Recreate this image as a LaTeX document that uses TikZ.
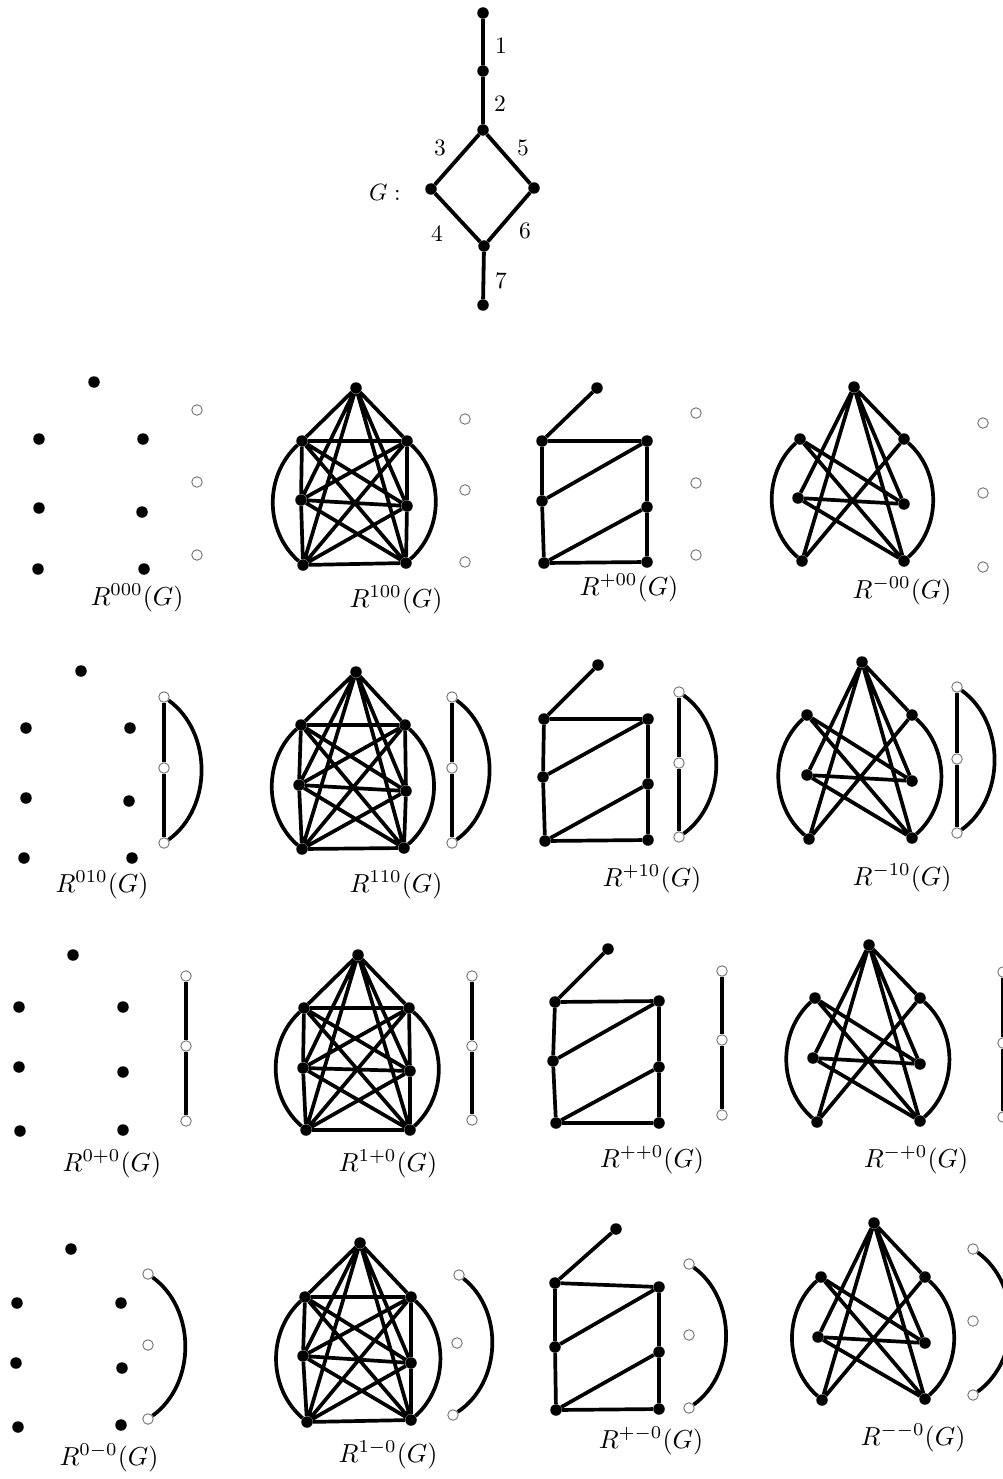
\documentclass[tikz,border=0pt]{standalone}
\pgfdeclarelayer{edges}
\pgfsetlayers{edges,main}
\tikzset{
 dot/.style={circle,fill=black,inner sep=0pt,minimum size=11.5pt},
 odot/.style={circle,draw=black!55,fill=white,inner sep=0pt,minimum size=10.5pt,line width=0.9pt},
 ln/.style={line width=3.7pt},
 oln/.style={line width=3.2pt},
 lab/.style={inner sep=0pt,scale=2.6},
 num/.style={inner sep=0pt,scale=2.35},
}
% seven vertices: prefix, apex, l1, r1, l2, r2, l3, r3
\newcommand\SevenV[8]{%
 \node[dot] (#1a) at (#2) {};
 \node[dot] (#1l1) at (#3) {};
 \node[dot] (#1r1) at (#4) {};
 \node[dot] (#1l2) at (#5) {};
 \node[dot] (#1r2) at (#6) {};
 \node[dot] (#1l3) at (#7) {};
 \node[dot] (#1r3) at (#8) {};}
\newcommand\EdgesK[1]{%
 \begin{pgfonlayer}{edges}
 \draw[ln] (#1a) -- (#1l1) (#1a) -- (#1r1) (#1a) -- (#1l2) (#1a) -- (#1r2) (#1a) -- (#1l3) (#1a) -- (#1r3)
  (#1l1) -- (#1r1) (#1l2) -- (#1r2) (#1l3) -- (#1r3)
  (#1l1) -- (#1l2) (#1l2) -- (#1l3) (#1r1) -- (#1r2) (#1r2) -- (#1r3)
  (#1l1) -- (#1r2) (#1l1) -- (#1r3) (#1l2) -- (#1r1) (#1l2) -- (#1r3) (#1l3) -- (#1r1) (#1l3) -- (#1r2);
 \draw[ln] (#1l1) to[bend right=48] (#1l3);
 \draw[ln] (#1r1) to[bend left=48] (#1r3);
 \end{pgfonlayer}}
\newcommand\EdgesP[1]{%
 \begin{pgfonlayer}{edges}
 \draw[ln] (#1a) -- (#1l1) (#1l1) -- (#1r1) (#1l1) -- (#1l2) (#1r1) -- (#1l2) (#1l2) -- (#1l3)
  (#1l3) -- (#1r3) (#1l3) -- (#1r2) (#1r1) -- (#1r2) (#1r2) -- (#1r3);
 \end{pgfonlayer}}
\newcommand\EdgesM[1]{%
 \begin{pgfonlayer}{edges}
 \draw[ln] (#1a) -- (#1r1) (#1a) -- (#1l2) (#1a) -- (#1r2) (#1a) -- (#1l3) (#1a) -- (#1r3)
  (#1l1) -- (#1r2) (#1l1) -- (#1r3) (#1r1) -- (#1l3) (#1l2) -- (#1r2) (#1l2) -- (#1r3);
 \draw[ln] (#1l1) to[bend right=48] (#1l3);
 \draw[ln] (#1r1) to[bend left=48] (#1r3);
 \end{pgfonlayer}}
\newcommand\ThreeO[4]{%
 \node[odot] (#1t) at (#2) {};
 \node[odot] (#1m) at (#3) {};
 \node[odot] (#1b) at (#4) {};}
\newcommand\Otri[1]{%
 \begin{pgfonlayer}{edges}
 \draw[oln] (#1t) -- (#1m) (#1m) -- (#1b);
 \draw[ln] (#1t) to[bend left=54] (#1b);
 \end{pgfonlayer}}
\newcommand\Opath[1]{%
 \begin{pgfonlayer}{edges}
 \draw[oln] (#1t) -- (#1m) (#1m) -- (#1b);
 \end{pgfonlayer}}
\newcommand\Oarc[1]{%
 \begin{pgfonlayer}{edges}
 \draw[ln] (#1t) to[bend left=54] (#1b);
 \end{pgfonlayer}}
\begin{document}
\begin{tikzpicture}[x=1pt,y=-1pt]
\useasboundingbox (0,0) rectangle (1002,1479);
% ---- graph G ----
\node[dot] (g1) at (483,13) {};
\node[dot] (g2) at (483,71) {};
\node[dot] (g3) at (483,130) {};
\node[dot] (g4) at (431,189) {};
\node[dot] (g5) at (534,188) {};
\node[dot] (g6) at (484,246) {};
\node[dot] (g7) at (483,305) {};
\begin{pgfonlayer}{edges}
\draw[line width=3.8pt] (g1) -- (g2) (g2) -- (g3) (g3) -- (g4) (g3) -- (g5) (g4) -- (g6) (g5) -- (g6) (g6) -- (g7);
\end{pgfonlayer}
\node[num] (n1) at (501,46) {1};
\node[num] (n2) at (500,104) {2};
\node[num] (n3) at (440,148) {3};
\node[num] (n5) at (523,148) {5};
\node[num] (n4) at (437,234) {4};
\node[num] (n6) at (525,231) {6};
\node[num] (n7) at (501,281) {7};
\node[num,anchor=east] (gl) at (401,192) {$G:$};
% ---- row 1 ----
\SevenV{p11}{94,382}{39,439}{143,439}{39,508}{142,512}{38,569}{144,569}
\ThreeO{q11}{197,410}{197,482}{197,555}
\node[lab] (t11) at (137,598) {$R^{000}(G)$};
\SevenV{p12}{356,388}{302,441}{407,441}{301,500}{407,506}{303,565}{406,563}
\EdgesK{p12}
\ThreeO{q12}{465,419}{465,490}{465,562}
\node[lab] (t12) at (396,600) {$R^{100}(G)$};
\SevenV{p13}{597,388}{542,441}{647,441}{542,501}{647,507}{544,563}{647,562}
\EdgesP{p13}
\ThreeO{q13}{696,413}{696,483}{696,555}
\node[lab] (t13) at (629,588) {$R^{+00}(G)$};
\SevenV{p14}{854,387}{800,439}{904,439}{798,498}{904,504}{802,561}{904,561}
\EdgesM{p14}
\ThreeO{q14}{983,423}{983,493}{983,567}
\node[lab] (t14) at (902,591) {$R^{-00}(G)$};
% ---- row 2 ----
\SevenV{p21}{81,671}{26,728}{130,728}{26,798}{129,801}{24,858}{132,858}
\ThreeO{q21}{164,697}{164,768}{164,843}
\Otri{q21}
\node[lab] (t21) at (102,885) {$R^{010}(G)$};
\SevenV{p22}{356,672}{301,725}{405,725}{299,785}{406,791}{302,849}{404,848}
\EdgesK{p22}
\ThreeO{q22}{452,697}{452,768}{452,843}
\Otri{q22}
\node[lab] (t22) at (396,885) {$R^{110}(G)$};
\SevenV{p23}{598,665}{544,719}{648,719}{543,777}{648,784}{545,841}{648,840}
\EdgesP{p23}
\ThreeO{q23}{679,692}{679,763}{679,837}
\Otri{q23}
\node[lab] (t23) at (652,879) {$R^{+10}(G)$};
\SevenV{p24}{862,662}{807,715}{912,715}{807,775}{912,781}{809,839}{912,838}
\EdgesM{p24}
\ThreeO{q24}{957,687}{957,759}{957,833}
\Otri{q24}
\node[lab] (t24) at (902,878) {$R^{-10}(G)$};
% ---- row 3 ----
\SevenV{p31}{73,955}{19,1007}{123,1007}{19,1067}{123,1072}{20,1131}{123,1130}
\ThreeO{q31}{186,976}{186,1046}{186,1121}
\Opath{q31}
\node[lab] (t31) at (112,1164) {$R^{0+0}(G)$};
\SevenV{p32}{358,955}{304,1008}{409,1008}{303,1068}{410,1071}{306,1130}{410,1130}
\EdgesK{p32}
\ThreeO{q32}{472,976}{472,1046}{472,1120}
\Opath{q32}
\node[lab] (t32) at (388,1164) {$R^{1+0}(G)$};
\SevenV{p33}{608,949}{555,1002}{659,1001}{553,1061}{659,1067}{556,1123}{659,1123}
\EdgesP{p33}
\ThreeO{q33}{722,971}{722,1040}{722,1115}
\Opath{q33}
\node[lab] (t33) at (652,1160) {$R^{++0}(G)$};
\SevenV{p34}{869,945}{815,998}{920,998}{813,1058}{920,1064}{817,1122}{920,1121}
\EdgesM{p34}
\ThreeO{q34}{1003,972}{1003,1043}{1003,1117}
\Opath{q34}
\node[lab] (t34) at (916,1160) {$R^{-+0}(G)$};
% ---- row 4 ----
\SevenV{p41}{71,1249}{17,1303}{121,1303}{16,1363}{122,1368}{18,1427}{121,1425}
\ThreeO{q41}{148,1274}{148,1345}{148,1419}
\Oarc{q41}
\node[lab] (t41) at (109,1458) {$R^{0-0}(G)$};
\SevenV{p42}{360,1243}{305,1297}{411,1297}{303,1356}{411,1363}{307,1422}{411,1420}
\EdgesK{p42}
\ThreeO{q42}{459,1275}{457,1343}{453,1415}
\Oarc{q42}
\node[lab] (t42) at (388,1455) {$R^{1-0}(G)$};
\SevenV{p43}{616,1229}{555,1283}{659,1287}{555,1347}{659,1352}{556,1410}{659,1409}
\EdgesP{p43}
\ThreeO{q43}{689,1264}{689,1335}{689,1408}
\Oarc{q43}
\node[lab] (t43) at (651,1441) {$R^{+-0}(G)$};
\SevenV{p44}{874,1223}{821,1277}{925,1277}{818,1337}{925,1343}{822,1400}{925,1399}
\EdgesM{p44}
\ThreeO{q44}{973,1249}{973,1321}{973,1395}
\Oarc{q44}
\node[lab] (t44) at (913,1438) {$R^{--0}(G)$};
\end{tikzpicture}
\end{document}
